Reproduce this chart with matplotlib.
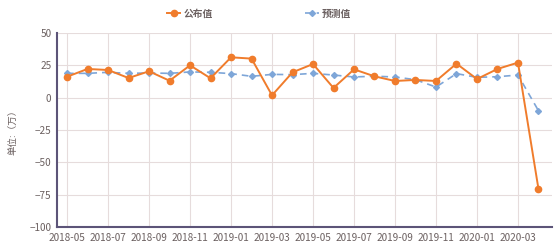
import matplotlib
matplotlib.use("Agg")
import matplotlib.pyplot as plt

plt.rcParams['font.family'] = ['Noto Sans CJK SC', 'DejaVu Sans']

months = ["2018-05", "2018-06", "2018-07", "2018-08", "2018-09", "2018-10",
          "2018-11", "2018-12", "2019-01", "2019-02", "2019-03", "2019-04",
          "2019-05", "2019-06", "2019-07", "2019-08", "2019-09", "2019-10",
          "2019-11", "2019-12", "2020-01", "2020-02", "2020-03", "2020-04"]
published = [16.2, 22.2, 21.4, 15.2, 20.4, 13.1, 25.0, 15.0, 31.2, 30.2, 1.8, 19.6,
             26.0, 7.5, 21.9, 16.5, 12.9, 13.7, 12.9, 26.3, 14.4, 22.2, 27.1, -70.6]
forecast = [18.8, 18.8, 19.6, 18.8, 19.1, 18.8, 19.9, 19.6, 18.6, 16.5, 18.0, 17.8,
            18.8, 17.5, 16.0, 16.6, 16.0, 13.9, 8.2, 18.6, 15.7, 16.2, 17.5, -10.1]
yticks = [50, 25, 0, -25, -50, -75, -100]

orange = "#f07c2c"
blue = "#7ea6d8"
axis_col = "#5c5478"
grid_col = "#e6dcdc"
text_col = "#6b6060"

fig = plt.figure(figsize=(5.6, 2.48), dpi=100)
ax = fig.add_axes([57 / 560, 1 - 227 / 248, (552 - 57) / 560, (227 - 33) / 248])

x = list(range(len(months)))
ax.plot(x, forecast, color=blue, linestyle=(0, (4, 3)), linewidth=1.2,
        marker="D", markersize=3, label="预测值", zorder=3)
ax.plot(x, published, color=orange, linewidth=1.4,
        marker="o", markersize=4.5, label="公布值", zorder=4)

ax.set_xlim(-0.49, 23.66)
ax.set_ylim(-100, 50)
ax.set_yticks(yticks)
ax.set_xticks(x[::2])
ax.set_xticklabels(months[::2])
ax.grid(True, color=grid_col, linewidth=0.8)
ax.set_axisbelow(True)

for s in ["top", "right"]:
    ax.spines[s].set_visible(False)
for s in ["left", "bottom"]:
    ax.spines[s].set_color(axis_col)
    ax.spines[s].set_linewidth(1.5)

ax.tick_params(axis="both", length=0, labelsize=7.2, colors=text_col, pad=4)
ax.set_ylabel("单位:（万）", fontsize=6.8, color=text_col, labelpad=9)

handles, labels = ax.get_legend_handles_labels()
fig.legend([handles[1], handles[0]], [labels[1], labels[0]], loc="upper center",
           bbox_to_anchor=(0.462, 1.0), ncol=2, frameon=False,
           prop={"size": 7, "weight": "bold"},
           columnspacing=9.5, handlelength=1.4, handletextpad=0.3,
           labelcolor=text_col)

fig.savefig("out.png", dpi=100)
